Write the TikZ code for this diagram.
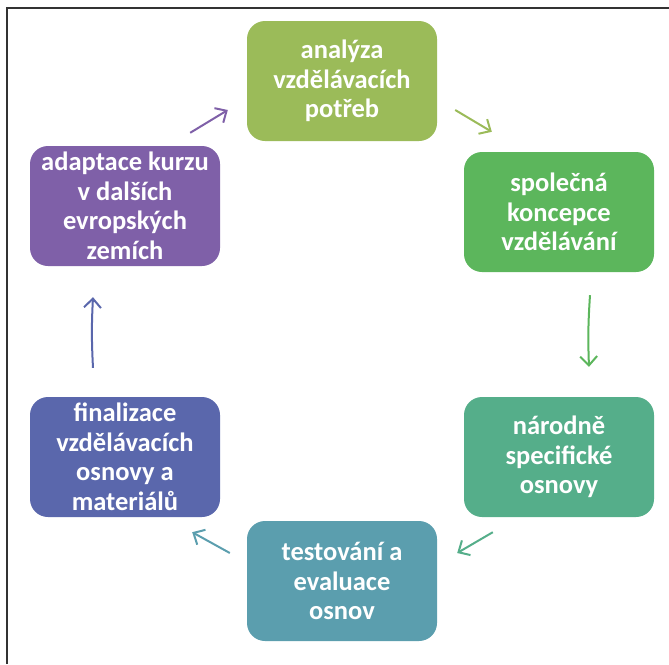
\documentclass[tikz,border=0pt]{standalone}
\usepackage{fontspec}
\setmainfont{Carlito}
\usetikzlibrary{arrows.meta,calc}

\definecolor{cOlive}{HTML}{9BBB59}
\definecolor{cGreen}{HTML}{5CB65C}
\definecolor{cSea}{HTML}{55AE8A}
\definecolor{cTeal}{HTML}{5B9EAE}
\definecolor{cBlue}{HTML}{5A67AC}
\definecolor{cPurple}{HTML}{7F60A8}

\tikzset{
  stage/.style={rectangle, rounded corners=18pt, fill=#1, text=white,
    minimum width=190pt, minimum height=120pt, align=center, inner sep=0pt,
    font=\fontsize{26.5}{29.5}\selectfont\bfseries},
  cyc/.style={draw=#1, line width=2pt,
    -{Straight Barb[length=9pt,width=17pt,line width=2pt]}},
  frame/.style={draw=black!80, line width=2pt}
}

\begin{document}
\begin{tikzpicture}[x=1pt,y=-1pt]
\useasboundingbox (0,0) rectangle (669,664);
\draw[frame] (7,664) -- (7,8) -- (669,8);

\node[stage=cOlive]  (analyza)    at (342,81)  {analýza\\vzdělávacích\\potřeb};
\node[stage=cGreen]  (spolecna)   at (559,212) {společná\\koncepce\\vzdělávání};
\node[stage=cSea]    (narodne)    at (559,457) {národně\\specifické\\osnovy};
\node[stage=cTeal]   (testovani)  at (342,581) {testování a\\evaluace\\osnov};
\node[stage=cBlue]   (finalizace) at (125,457) {finalizace\\vzdělávacích\\osnovy a\\materiálů};
\node[stage=cPurple] (adaptace)   at (125,206) {adaptace kurzu\\v dalších\\evropských\\zemích};

% arrows between the stages
\draw[cyc=cPurple] ([shift={(-30,-13)}]adaptace.north east) -- ([shift={(-19,29)}]analyza.west);
\draw[cyc=cOlive]  ([shift={(18,29)}]analyza.east) -- ([shift={(28,-20)}]spolecna.north west);
\draw[cyc=cGreen]  ([shift={(31,23)}]spolecna.south) to[bend right=3] ([shift={(30,-30)}]narodne.north);
\draw[cyc=cSea]    ([shift={(29,15)}]narodne.south west) -- ([shift={(20,-28)}]testovani.east);
\draw[cyc=cTeal]   ([shift={(-17,-28)}]testovani.west) -- ([shift={(-28,15)}]finalizace.south east);
\draw[cyc=cBlue]   ([shift={(-32,-29)}]finalizace.north) to[bend left=3] ([shift={(-32,31)}]adaptace.south);
\end{tikzpicture}
\end{document}
